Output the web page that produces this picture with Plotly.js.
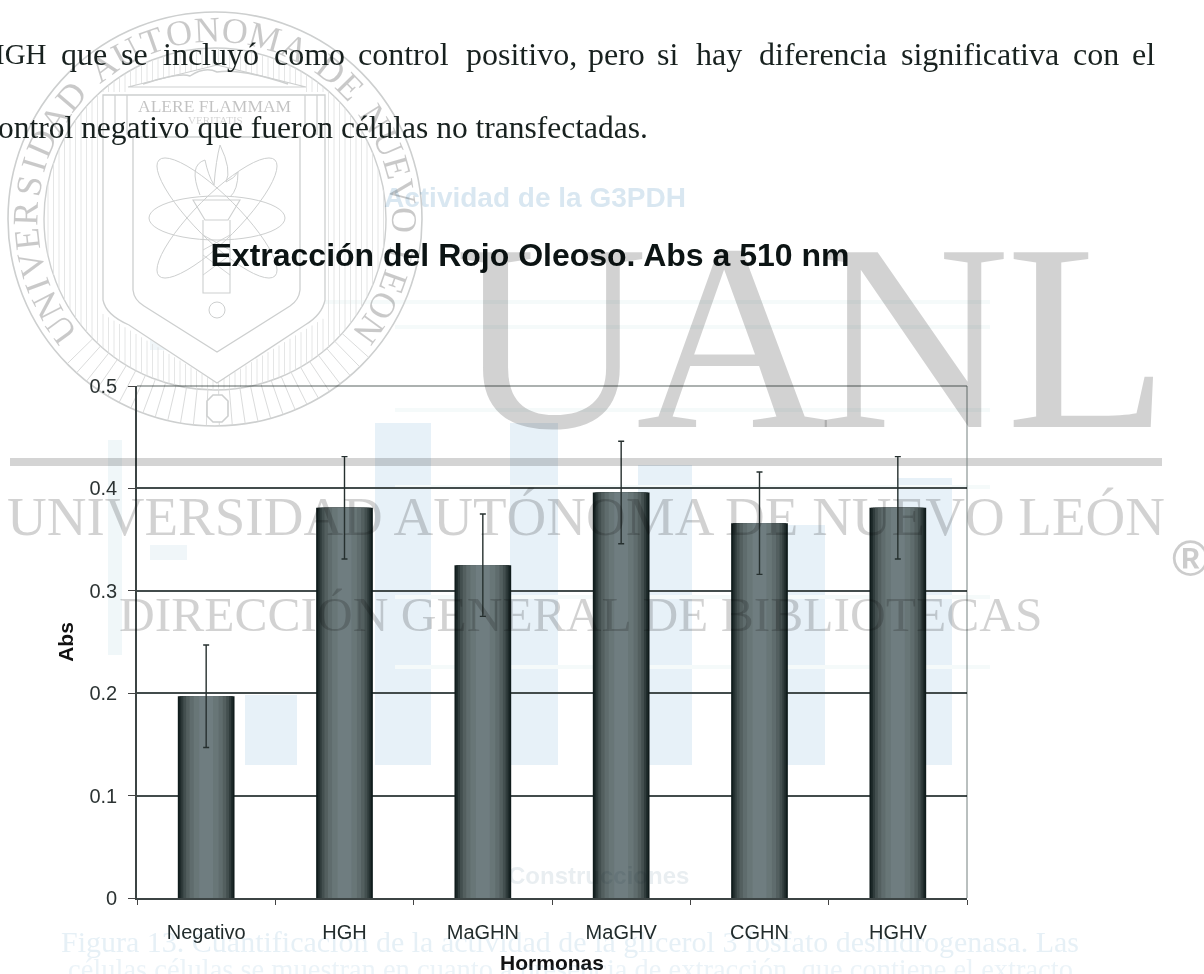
<!DOCTYPE html>
<html lang="es">
<head>
<meta charset="utf-8">
<script src="https://cdn.plot.ly/plotly-3.0.1.min.js"></script>
<style>
html,body{margin:0;padding:0;background:#fff;overflow:hidden}
#chart{width:1204px;height:974px}
/* watermark and title layer prints over the chart like ink */
#chart .main-svg:nth-of-type(2){mix-blend-mode:multiply}
</style>
</head>
<body>
<div id="chart"></div>
<script>
// ---------- chart data ----------
const categories = ['Negativo','HGH','MaGHN','MaGHV','CGHN','HGHV'];
const absValues  = [0.197,0.381,0.325,0.396,0.366,0.381];
const absErrors  = [0.050,0.050,0.050,0.050,0.050,0.050];
const yTicks     = [0,0.1,0.2,0.3,0.4,0.5];
const yTickText  = ['0','0.1','0.2','0.3','0.4','0.5'];
// Cylinder shading: the same bars overlaid, narrowing toward a lighter core
const shadeWidths = [0.41,0.385,0.36,0.33,0.29,0.24,0.18,0.10];
const shadeColors = ['#101c1c','#1f2b2b','#303c3c','#434f4f','#535f5f','#5f6c6d','#687677','#6f7d80'];

// ---------- page geometry ----------
const L=137,R=967,T=386,B=898;
const X=p=>(p-L)/(R-L), Y=p=>(B-p)/(B-T);
const SERIF='"Liberation Serif",serif', SANS='"Liberation Sans",Arial,sans-serif';

const anns=[], shapes=[];
function ann(text,x,y,size,color,o={}){
  anns.push({text,x:X(x),y:Y(y),xref:'paper',yref:'paper',showarrow:false,
    xanchor:o.anchor||'center',yanchor:'middle',textangle:o.angle||0,
    font:{family:o.family||SERIF,size,color,weight:o.weight||'normal'},captureevents:false});
}
function rect(x0,y0,x1,y1,color,layer='below'){
  shapes.push({type:'rect',xref:'paper',yref:'paper',x0:X(x0),x1:X(x1),y0:Y(y0),y1:Y(y1),
    fillcolor:color,line:{width:0},layer});
}
function path(d,color,w=1,fill='rgba(0,0,0,0)'){
  const conv=d.replace(/(-?[\d.]+),(-?[\d.]+)/g,(m,a,b)=>X(+a)+','+Y(+b));
  shapes.push({type:'path',xref:'paper',yref:'paper',path:conv,line:{color,width:w},fillcolor:fill,layer:'below'});
}
function circle(cx,cy,rx,ry,color,w=1){
  shapes.push({type:'circle',xref:'paper',yref:'paper',x0:X(cx-rx),x1:X(cx+rx),y0:Y(cy+ry),y1:Y(cy-ry),
    line:{color,width:w},layer:'below'});
}

// ---------- page bleed-through ----------
const ghost='#e7f1f8';
[[245,297,695],[375,431,423],[510,558,423],[638,692,465],[770,825,525],[897,952,478]].forEach(b=>rect(b[0],b[2],b[1],765,ghost));
rect(108,440,122,655,'#f0f7f9');
rect(140,262,190,275,'#f0f6f9');rect(150,338,187,350,'#f0f6f9');rect(150,545,187,560,'#f0f6f9');
[[250,300],[395,325],[395,408],[395,485],[395,595],[395,665]].forEach(s=>rect(s[0],s[1],990,s[1]+4,'#f5fafa'));
ann('Actividad de la G3PDH',535,197,28,'rgba(120,170,205,0.28)',{family:SANS,weight:'bold'});
ann('Construcciones',598,875,24,'rgba(120,150,170,0.16)',{family:SANS,weight:'bold'});
ann('Figura 13. Cuantificación de la actividad de la glicerol 3 fosfato deshidrogenasa. Las',570,941,30,'rgba(100,160,200,0.16)');
ann('células células se muestran en cuanto a presencia de extracción, que contiene el extracto',570,969,28.5,'rgba(100,160,200,0.13)');

// ---------- seal ----------
const sc='#cdcfcf', cx=215, cy=219, rO=207, rI=171;
circle(cx,cy,rO,rO,sc,1.6);
circle(cx,cy,rI,rI,sc,1.4);
let hatch='';
const shieldLow=x=>383-Math.abs(x-217)*66/109;
const pedTop=x=>65+Math.abs(x-217)*22/89;
for(let x=cx-rI+4;x<cx+rI;x+=5.5){
  const h=Math.sqrt(rI*rI-(x-cx)*(x-cx));
  const top=cy-h, bot=cy+h;
  if(x<103||x>325){hatch+=`M${x},${top}L${x},${bot}`;}
  else{
    const pt=Math.abs(x-217)<89?pedTop(x):92;
    if(pt>top)hatch+=`M${x},${top}L${x},${pt}`;
    const sl=shieldLow(x);
    if(sl<bot)hatch+=`M${x},${sl}L${x},${bot}`;
  }
}
path(hatch,'#dedfdf',0.8);
let spokes='';
for(let a=132;a<=228;a+=3.6){
  const r=a*Math.PI/180, s=Math.sin(r), c=Math.cos(r);
  spokes+=`M${cx+rI*s},${cy-rI*c}L${cx+rO*s},${cy-rO*c}`;
}
path(spokes,'#d6d7d7',0.9);
path('M103,95L325,95L325,300Q322,315 305,325L217,383L129,325Q106,315 103,300Z',sc,1.3,'#ffffff');
path('M133,137L300,137L300,290Q299,300 290,306L217,352L144,306Q134,300 133,290Z',sc,1.3);
path('M128,87L217,65L306,87Z',sc,1.2,'#ffffff');
path('M115,95L115,135M127,95L127,135M305,95L305,135M317,95L317,135',sc,1.2);
path('M143,84Q180,72 190,76Q205,66 217,72Q240,68 288,84',sc,1.4);
ann('ALERE FLAMMAM',215,106,17.5,'rgba(0,0,0,0.24)');
ann('VERITATIS',215,120,11,'rgba(0,0,0,0.18)');
// atom orbits and torch
const ell=(deg,rx)=>{let d='';const t=deg*Math.PI/180;
  for(let i=0;i<=48;i++){const u=i/48*2*Math.PI;const ex=rx*Math.cos(u),ey=22*Math.sin(u);
    d+=(i?'L':'M')+(217+ex*Math.cos(t)-ey*Math.sin(t))+','+(218+ex*Math.sin(t)+ey*Math.cos(t));}
  return d;};
path(ell(0,68),sc,1);path(ell(45,82),sc,1);path(ell(-45,82),sc,1);
path('M193,200L240,200L228,220L205,220ZM203,220L203,293L230,293L230,220',sc,1.1);
path('M203,235L230,250M230,235L203,250M203,255L230,275M230,255L203,275',sc,.9);
path('M200,195Q188,165 205,160Q208,175 214,185Q216,160 220,145Q232,170 226,182Q235,178 238,172Q238,190 230,197',sc,1);
circle(217,310,8,8,sc,1);
path('M207,410L207,401L213,395L222,395L228,401L228,416L222,422L213,422L207,416Z',sc,1.6,'#ffffff');
// ring lettering
const ring='UNIVERSIDAD AUTONOMA DE NUEVO LEON'.split('');
const wid=c=>c===' '?0.45:(c==='I'?0.5:(c==='M'?1.05:(c==='E'||c==='L'?0.7:0.85)));
const totalW=ring.reduce((s,c)=>s+wid(c),0);
let run=0;
ring.forEach(c=>{
  const w=wid(c), ang=-130+260*(run+w/2)/totalW; run+=w;
  if(c===' ')return;
  const r=ang*Math.PI/180;
  ann(c,cx+189*Math.sin(r),cy-189*Math.cos(r),36,'rgba(0,0,0,0.21)',{angle:ang});
});

// ---------- page text ----------
const ink='#18211f';
ann('IGH',49,54,29,ink,{anchor:'right'});
[['que',109],['se',150],['incluyó',261],['como',347],['control',451],['positivo,',579],
 ['pero',647],['si',680],['hay',744],['diferencia',889],['significativa',1061],['con',1121],['el',1157]]
 .forEach(w=>ann(w[0],w[1],54,32,ink,{anchor:'right'}));
ann('ontrol negativo que fueron células no transfectadas.',650,127,31.5,ink,{anchor:'right'});

// ---------- watermark ----------
const wm='rgba(0,0,0,0.175)';
[['U',453],['A',634],['N',815],['L',1004]].forEach(g=>ann(g[0],g[1],337,267,wm,{anchor:'left'}));
ann('UNIVERSIDAD AUTÓNOMA DE NUEVO LEÓN',586,516,55,wm);
ann('DIRECCIÓN GENERAL DE BIBLIOTECAS',580,614,49.5,wm);
ann('®',1190,559,50,'rgba(0,0,0,0.2)',{family:SANS,weight:'bold'});
rect(10,458,1162,466,'rgba(0,0,0,0.17)','above');

// right and top frame edges are thinner and greyer than the left axis
shapes.push({type:'line',xref:'paper',yref:'paper',x0:1,x1:1,y0:0,y1:1,line:{color:'#75807f',width:1},layer:'above'});
shapes.push({type:'line',xref:'paper',yref:'paper',x0:0,x1:1,y0:1,y1:1,line:{color:'#5b6463',width:1.2},layer:'above'});

// ---------- traces ----------
const traces=shadeWidths.map((w,i)=>{
  const t={type:'bar',x:categories,y:absValues,width:w,marker:{color:shadeColors[i],line:{width:0}},
    hoverinfo:'x+y',showlegend:false};
  if(i===shadeWidths.length-1){
    t.error_y={type:'data',array:absErrors,visible:true,color:'#26302f',thickness:1.4,width:3};
  }
  return t;
});

const layout={
  width:1204,height:974,autosize:false,
  margin:{l:L,r:1204-R,t:T,b:974-B,pad:0},
  paper_bgcolor:'#ffffff',plot_bgcolor:'rgba(0,0,0,0)',
  barmode:'overlay',showlegend:false,
  title:{text:'Extracción del Rojo Oleoso. Abs a 510 nm',x:530/1204,xanchor:'center',y:1-255/974,yanchor:'middle',
    font:{family:SANS,size:32,color:'#0c1414',weight:'bold'}},
  xaxis:{type:'category',categoryorder:'array',categoryarray:categories,range:[-0.5,5.5],
    tickson:'boundaries',ticks:'outside',ticklen:5,tickwidth:1.3,tickcolor:'#444',
    ticklabelstandoff:15,showline:true,linecolor:'#3c4444',linewidth:1.6,showgrid:false,zeroline:false,
    tickfont:{family:SANS,size:20,color:'#222c2c'},
    title:{text:'Hormonas',standoff:16,font:{family:SANS,size:21,color:'#111',weight:'bold'}}},
  yaxis:{range:[0,0.5],tickvals:yTicks,ticktext:yTickText,ticks:'outside',ticklen:7,tickwidth:1.3,tickcolor:'#444',
    ticklabelstandoff:7,showline:true,linecolor:'#3c4444',linewidth:1.6,showgrid:true,gridcolor:'#434c4c',gridwidth:1.5,zeroline:false,
    tickfont:{family:SANS,size:20,color:'#2c3333'},
    title:{text:'Abs',standoff:10,font:{family:SANS,size:21,color:'#111',weight:'bold'}}},
  shapes,annotations:anns
};
Plotly.newPlot('chart',traces,layout,{displayModeBar:false,responsive:false});
</script>
</body>
</html>
